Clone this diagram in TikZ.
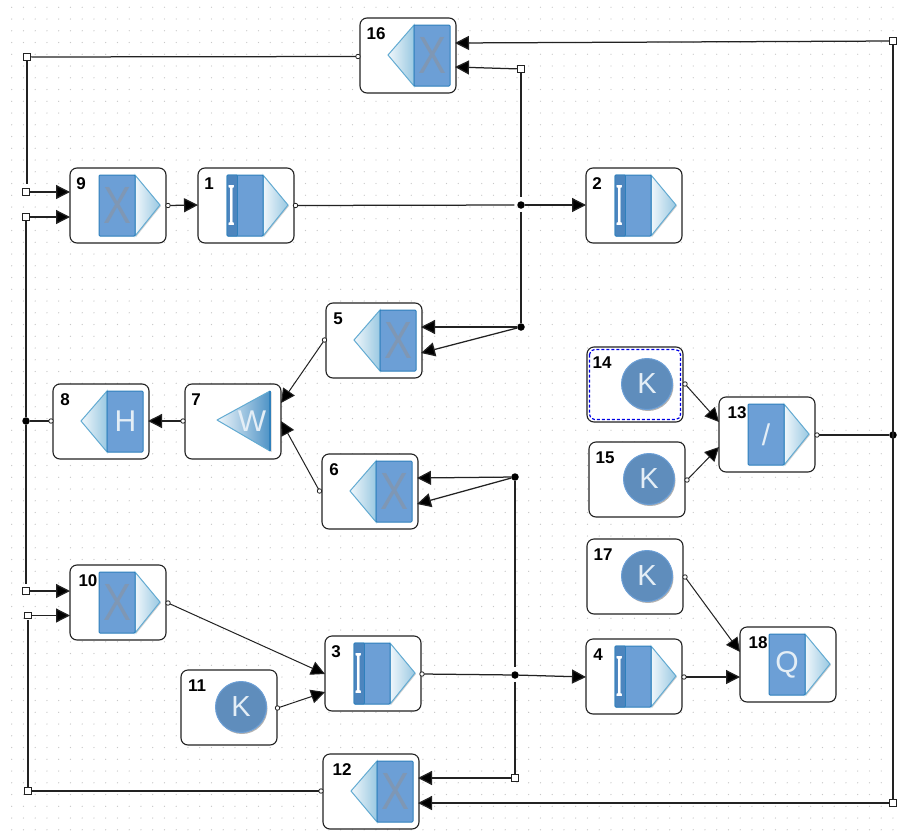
\documentclass[tikz,border=0pt]{standalone}
\usepackage{fontspec}
\usepackage{graphicx}
\setmainfont{Liberation Sans}
\usetikzlibrary{arrows.meta,shadows,shadings,calc}
\definecolor{bluefill}{HTML}{6C9FD6}
\definecolor{blueedge}{HTML}{2F80BC}
\definecolor{bluestrip}{HTML}{4C85BE}
\definecolor{triedge}{HTML}{63ABD2}
\definecolor{kfill}{HTML}{5F8DBC}
\definecolor{kedge}{HTML}{6C9FD6}
\definecolor{xcol}{HTML}{7F97B4}
\definecolor{lcol}{HTML}{E4EEF6}
\definecolor{ink}{HTML}{222222}
\tikzset{
  x=1pt,y=-1pt,
  boxstyle/.style={draw=ink,line width=1.1pt,rounded corners=7pt,fill=white,minimum width=96pt,minimum height=75pt,inner sep=0pt,outer sep=0pt,anchor=north west},
  numstyle/.style={inner sep=0pt,font=\fontsize{17}{17}\selectfont\bfseries,text=black,anchor=center},
  rectstyle/.style={draw=blueedge,line width=1pt,fill=bluefill},
  tristyle/.style={draw=triedge,line width=1pt,left color=white!90!triedge,right color=triedge!65!white,drop shadow={shadow xshift=1pt,shadow yshift=-1pt,opacity=.18,fill=black}},
  port/.style={circle,draw=ink,fill=white,line width=.8pt,minimum size=4.5pt,inner sep=0pt,outer sep=0pt},
  term/.style={rectangle,draw=ink,fill=white,line width=1.2pt,minimum size=6.5pt,inner sep=0pt,outer sep=1pt},
  junction/.style={circle,fill=black,minimum size=7.5pt,inner sep=0pt,outer sep=0pt},
  wire/.style={draw=ink,line width=1.25pt},
  arr/.style={wire,-{Triangle[length=14pt,width=14pt,fill=black]}},
}
\newcommand{\boxblk}[5]{\node[boxstyle] (#1) at (#2,#3) {};
  \node[numstyle] (#1num) at ($(#2,#3)+(#5,16)$) {#4};}
\newcommand{\iconright}[4]{\begin{scope}[shift={(#2,#3)}]
  \path[tristyle] (65,7) -- (90,37) -- (65,68) -- cycle;
  \path[rectstyle,rounded corners=1pt] (29,7) rectangle (65,68);
  \node[inner sep=0pt] (#1glyph) at (47,37.5) {#4};
  \end{scope}}
\newcommand{\iconleft}[4]{\begin{scope}[shift={(#2,#3)}]
  \path[tristyle] (54,7) -- (28,37) -- (54,68) -- cycle;
  \path[rectstyle,rounded corners=1pt] (54,7) rectangle (90,68);
  \node[inner sep=0pt] (#1glyph) at (72.5,37.5) {#4};
  \end{scope}}
\newcommand{\iconint}[3]{\begin{scope}[shift={(#2,#3)}]
  \path[tristyle] (65,7) -- (90,37) -- (65,68) -- cycle;
  \path[rectstyle,rounded corners=1pt] (29,7) rectangle (65,68);
  \path[draw=blueedge,line width=.8pt,fill=bluestrip,rounded corners=1pt] (29,7) rectangle (39.5,68);
  \node[inner sep=0pt,text=white] (#1glyph) at (33.5,37.5) {\resizebox{6.5pt}{40pt}{\fontspec{Liberation Serif}\bfseries I}};
  \end{scope}}
\newcommand{\iconk}[3]{\begin{scope}[shift={(#2,#3)}]
  \path[draw=kedge,line width=1pt,fill=kfill,drop shadow={shadow xshift=1pt,shadow yshift=-1.5pt,opacity=.3,fill=black}] (60,37) circle (25.5);
  \node[inner sep=0pt,text=lcol,font=\fontsize{29}{29}\selectfont] (#1glyph) at (60,37) {K};
  \end{scope}}
\newcommand{\Xg}{\textcolor{xcol}{\resizebox{28pt}{36pt}{X}}}
\newcommand{\Lg}[1]{\textcolor{lcol}{\fontsize{30}{30}\selectfont #1}}
\begin{document}
\begin{tikzpicture}
\useasboundingbox (0,0) rectangle (897,838);
\fill[white] (0,0) rectangle (897,838);
\foreach \i in {0,...,75}{
  \foreach \j in {0,...,70}{
    \fill[black!22] ({11.7+11.75*\i},{7.3+11.75*\j}) circle (.65);
  }
}
\boxblk{b16}{360}{18}{16}{16}  \iconleft{b16}{360}{18}{\Xg}
\boxblk{b9}{70}{168}{9}{11}    \iconright{b9}{70}{168}{\Xg}
\boxblk{b1}{198}{168}{1}{11}   \iconint{b1}{198}{168}
\boxblk{b2}{586}{168}{2}{11}   \iconint{b2}{586}{168}
\boxblk{b5}{326}{303}{5}{12}   \iconleft{b5}{326}{303}{\Xg}
\boxblk{b7}{185}{384}{7}{11}
\begin{scope}[shift={(185,384)}]
  \path[draw=triedge,line width=1pt,left color=white!90!triedge,right color=blueedge!85!white,line join=round,drop shadow={shadow xshift=1.5pt,shadow yshift=-1pt,opacity=.18,fill=black}] (85,7) -- (32,36) -- (85,67) -- cycle;
  \path[draw=blueedge,line width=1.4pt] (85,7) -- (85,67);
  \node[inner sep=0pt] (b7glyph) at (67,37) {\textcolor{lcol}{\fontsize{30}{30}\selectfont W}};
\end{scope}
\boxblk{b8}{53}{384}{8}{12}    \iconleft{b8}{53}{384}{\Lg{H}}
\boxblk{b6}{322}{454}{6}{12}   \iconleft{b6}{322}{454}{\Xg}
\boxblk{b14}{587}{347}{14}{15} \iconk{b14}{587}{347}
\draw[blue!90!black,line width=1.2pt,dash pattern=on 3pt off 2pt,rounded corners=5pt] (589.5,349.5) rectangle (680.5,419.5);
\boxblk{b15}{589}{442}{15}{16} \iconk{b15}{589}{442}
\boxblk{b13}{719}{397}{13}{18} \iconright{b13}{719}{397}{\Lg{/}}
\boxblk{b17}{587}{539}{17}{16} \iconk{b17}{587}{539}
\boxblk{b10}{70}{565}{10}{18}  \iconright{b10}{70}{565}{\Xg}
\boxblk{b11}{181}{670}{11}{16} \iconk{b11}{181}{670}
\boxblk{b3}{325}{636}{3}{11}   \iconint{b3}{325}{636}
\boxblk{b4}{586}{639}{4}{12}   \iconint{b4}{586}{639}
\boxblk{b18}{740}{627}{18}{18} \iconright{b18}{740}{627}{\Lg{Q}}
\boxblk{b12}{323}{754}{12}{19} \iconleft{b12}{323}{754}{\Xg}
\node[term] (tA) at (27,57) {};
\node[term] (tB) at (26,192) {};
\node[term] (tC) at (26,217) {};
\node[term] (tD) at (26,591) {};
\node[term] (tE) at (28,615.5) {};
\node[term] (tF) at (28,791) {};
\node[term] (tG) at (521,69) {};
\node[term] (tH) at (515,778) {};
\node[term] (tI) at (893,41) {};
\node[term] (tJ) at (893,803) {};
\node[junction] (jA) at (26,421) {};
\node[junction] (jB) at (521,205) {};
\node[junction] (jC) at (521,327) {};
\node[junction] (jD) at (515,477) {};
\node[junction] (jE) at (515,675) {};
\node[junction] (jF) at (893,435) {};
\coordinate (i16a) at (455,43);
\coordinate (i16b) at (455,67);
\coordinate (i9a) at (70,192);
\coordinate (i9b) at (70,217);
\coordinate (i1) at (198,205);
\coordinate (i2) at (586,205);
\coordinate (i5a) at (421,327);
\coordinate (i5b) at (421,353);
\coordinate (i6a) at (417,478);
\coordinate (i6b) at (417,504);
\coordinate (i7a) at (281,403);
\coordinate (i7b) at (281,421);
\coordinate (i8) at (148,421);
\coordinate (i10a) at (70,591);
\coordinate (i10b) at (70,615.5);
\coordinate (i3a) at (325,674);
\coordinate (i3b) at (325,692);
\coordinate (i4) at (586,677);
\coordinate (i18a) at (740,652);
\coordinate (i18b) at (740,677);
\coordinate (i13a) at (719,422);
\coordinate (i13b) at (719,447);
\coordinate (i12a) at (418,778);
\coordinate (i12b) at (418,803);
\coordinate (kA) at (27,184);
\coordinate (kB) at (26,584);
\node[port] (o9) at (168,205.5) {};
\node[port] (o1) at (295.5,205.5) {};
\node[port] (o5) at (324.5,340) {};
\node[port] (o6) at (319.5,491) {};
\node[port] (o7) at (183,421) {};
\node[port] (o8) at (51,421) {};
\node[port] (o16) at (358,56.5) {};
\node[port] (o10) at (168,603) {};
\node[port] (o11) at (277.5,708) {};
\node[port] (o3) at (422,674) {};
\node[port] (o4) at (684,677) {};
\node[port] (o17) at (685,577) {};
\node[port] (o14) at (685,384) {};
\node[port] (o15) at (687,480) {};
\node[port] (o13) at (817,435) {};
\node[port] (o12) at (321,791) {};
\draw[wire] (jA) -- (o8);
\draw[wire] (tA) -- (o16);
\draw[wire] (tA) -- (kA);
\draw[wire] (tC) -- (jA);
\draw[wire] (jA) -- (kB);
\draw[wire] (tE) -- (tF);
\draw[wire] (tF) -- (o12);
\draw[arr] (tB) -- (i9a);
\draw[arr] (tC) -- (i9b);
\draw[arr] (tD) -- (i10a);
\draw[arr] (tE) -- (i10b);
\draw[arr] (tI) -- (i16a);
\draw[arr] (tG) -- (i16b);
\draw[arr] (tJ) -- (i12b);
\draw[arr] (tH) -- (i12a);
\draw[wire] (tI) -- (tJ);
\draw[wire,shorten >=4pt] (tG) -- (jB);
\draw[wire,shorten <=3pt] (jB) -- (jC);
\draw[wire,shorten >=4pt] (jD) -- (jE);
\draw[wire,shorten <=3pt] (jE) -- (tH);
\draw[arr] (o9) -- (i1);
\draw[wire,shorten >=3pt] (o1) -- (jB);
\draw[arr] (jB) -- (i2);
\draw[arr] (jC) -- (i5a);
\draw[arr] (jC) -- (i5b);
\draw[arr] (jD) -- (i6a);
\draw[arr] (jD) -- (i6b);
\draw[arr,line width=1pt] (o5) -- (i7a);
\draw[arr,line width=1pt] (o6) -- (i7b);
\draw[arr] (o7) -- (i8);
\draw[arr,line width=1pt] (o10) -- (i3a);
\draw[arr,line width=1pt] (o11) -- (i3b);
\draw[wire] (o3) -- (jE);
\draw[arr] (jE) -- (i4);
\draw[arr] (o4) -- (i18b);
\draw[arr,line width=1pt] (o17) -- (i18a);
\draw[arr,line width=1pt] (o14) -- (i13a);
\draw[arr,line width=1pt] (o15) -- (i13b);
\draw[wire] (o13) -- (jF);
\end{tikzpicture}
\end{document}
